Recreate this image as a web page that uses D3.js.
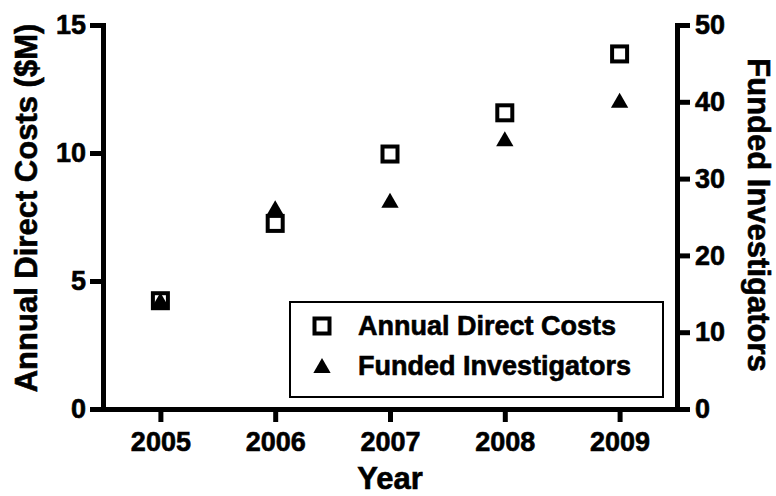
<!DOCTYPE html>
<html>
<head>
<meta charset="utf-8">
<script src="https://cdn.jsdelivr.net/npm/d3@7"></script>
<style>
  body { margin: 0; background: #fff; }
  svg text { font-family: "Liberation Sans", Arial, sans-serif; font-weight: bold; fill: #000; stroke: #000; stroke-width: 0.6px; }
</style>
</head>
<body>
<div id="chart"></div>
<script>
// datos
const years = [2005, 2006, 2007, 2008, 2009];
const directCosts = [4.23, 7.25, 9.96, 11.57, 13.87];
const investigators = [14, 26, 27, 35, 40];
const leftTicks = [0, 5, 10, 15];
const rightTicks = [0, 10, 20, 30, 40, 50];

const width = 776, height = 496;

const svg = d3.select("#chart").append("svg")
    .attr("width", width)
    .attr("height", height);

// escalas
const x = d3.scaleLinear().domain([2004.5, 2009.5]).range([103, 677]);
const yLeft = d3.scaleLinear().domain([0, 15]).range([409, 25]);
const yRight = d3.scaleLinear().domain([0, 50]).range([409, 25]);

// ejes
const styleAxis = g => {
    g.select(".domain").attr("stroke", "#000").attr("stroke-width", 5).attr("stroke-linecap", "square");
    g.selectAll(".tick line").attr("stroke", "#000").attr("stroke-width", 5);
    g.selectAll(".tick text").attr("font-size", "27px").attr("font-family", null);
};

svg.append("g")
    .attr("transform", "translate(0,409)")
    .call(d3.axisBottom(x).tickValues(years).tickFormat(d3.format("d"))
        .tickSize(13).tickSizeOuter(0).tickPadding(10))
    .call(styleAxis);

svg.append("g")
    .attr("transform", "translate(103,0)")
    .call(d3.axisLeft(yLeft).tickValues(leftTicks).tickSize(13).tickSizeOuter(0).tickPadding(4))
    .call(styleAxis);

svg.append("g")
    .attr("transform", "translate(677,0)")
    .call(d3.axisRight(yRight).tickValues(rightTicks).tickSize(13).tickSizeOuter(0).tickPadding(5))
    .call(styleAxis);

// titulos de ejes
svg.append("text")
    .attr("x", 390).attr("y", 489)
    .attr("text-anchor", "middle")
    .attr("font-size", "31px")
    .text("Year");

svg.append("text")
    .attr("transform", "translate(37,208) rotate(-90)")
    .attr("text-anchor", "middle")
    .attr("font-size", "31px")
    .text("Annual Direct Costs ($M)");

svg.append("text")
    .attr("transform", "translate(748,215) rotate(90)")
    .attr("text-anchor", "middle")
    .attr("font-size", "31px")
    .text("Funded Investigators");

// simbolos
const tri = d3.symbol().type(d3.symbolTriangle).size(130);

svg.append("g").selectAll("path")
    .data(years.map((yr, i) => ({ yr, v: investigators[i] })))
    .join("path")
    .attr("d", tri)
    .attr("transform", d => `translate(${x(d.yr)},${yRight(d.v) + 1})`)
    .attr("fill", "#000");

svg.append("g").selectAll("rect")
    .data(years.map((yr, i) => ({ yr, v: directCosts[i] })))
    .join("rect")
    .attr("x", d => x(d.yr) - 7.5)
    .attr("y", d => yLeft(d.v) - 7.5)
    .attr("width", 15).attr("height", 15)
    .attr("fill", "none")
    .attr("stroke", "#000")
    .attr("stroke-width", 4);

// leyenda
const legend = svg.append("g");
legend.append("rect")
    .attr("x", 290).attr("y", 302)
    .attr("width", 373).attr("height", 95)
    .attr("fill", "#fff")
    .attr("stroke", "#000")
    .attr("stroke-width", 2);

legend.append("rect")
    .attr("x", 322 - 7.5).attr("y", 326 - 7.5)
    .attr("width", 15).attr("height", 15)
    .attr("fill", "none").attr("stroke", "#000").attr("stroke-width", 4);
legend.append("path")
    .attr("d", tri)
    .attr("transform", "translate(322,368)")
    .attr("fill", "#000");

legend.append("text").attr("x", 358).attr("y", 335).attr("font-size", "27px").text("Annual Direct Costs");
legend.append("text").attr("x", 358).attr("y", 375).attr("font-size", "27px").text("Funded Investigators");
</script>
</body>
</html>
